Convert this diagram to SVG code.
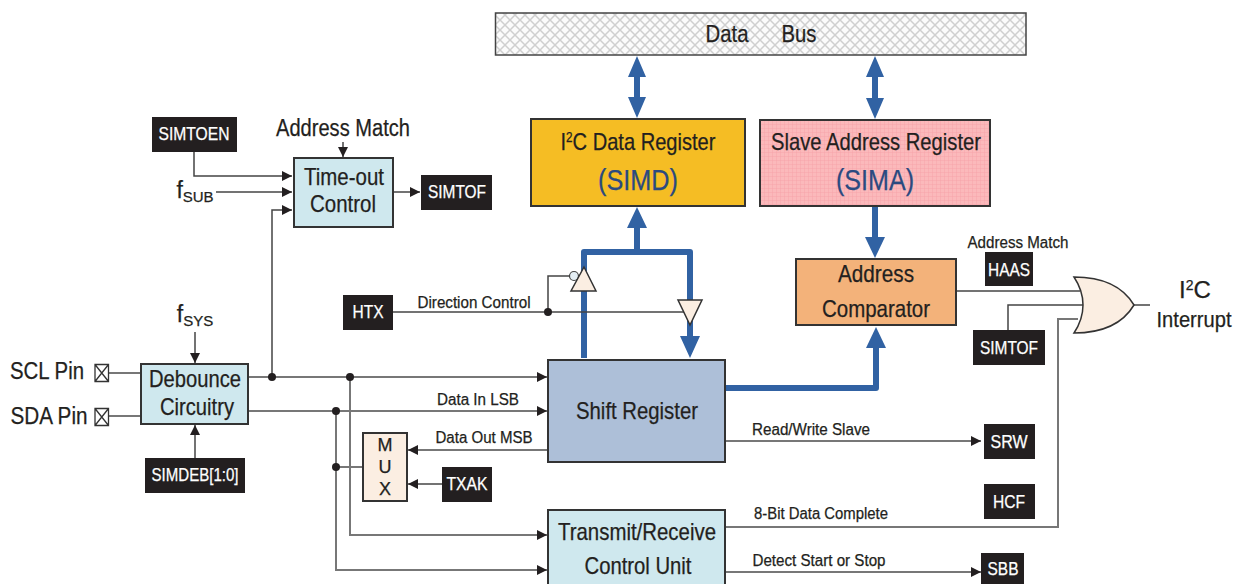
<svg xmlns="http://www.w3.org/2000/svg" width="1240" height="584" viewBox="0 0 1240 584">
<style>
text{font-family:"Liberation Sans",Arial,sans-serif;fill:#231f20;text-anchor:middle;stroke:#231f20;stroke-width:.25}
.blk{fill:#231f20}
.w{fill:#fff;stroke:#fff;font-size:18px}
.box{stroke:#333;stroke-width:2}
.l{fill:none;stroke:#444;stroke-width:1.5}
.g{fill:none;stroke:#777;stroke-width:2}
.a{fill:none;stroke:#444;stroke-width:1.5;marker-end:url(#ah)}
.ag{fill:none;stroke:#777;stroke-width:2;marker-end:url(#ah)}
.b{fill:none;stroke:#3162a3;stroke-width:6;stroke-linejoin:round}
.big{font-size:24px}
.mid{font-size:18px}
.bf{fill:#3162a3}
.cream{fill:#fbeee2}
.t{fill:#2b4a80;stroke:#2b4a80}
</style>
<defs>
<marker id="ah" viewBox="0 0 10 10" refX="10" refY="5" markerWidth="10" markerHeight="10" markerUnits="userSpaceOnUse" orient="auto"><path d="M0 0L10 5L0 10Z" fill="#231f20"/></marker>
<pattern id="hatch" width="10" height="10" patternUnits="userSpaceOnUse"><rect width="10" height="10" fill="#fbfbfb"/><path d="M0 0L10 10M10 0L0 10" stroke="#cfcfcf" stroke-width="1.500"/></pattern>
<pattern id="grid" width="4" height="4" patternUnits="userSpaceOnUse"><rect width="4" height="4" fill="#fbb9bb"/><path d="M0 0H4M0 0V4" stroke="#f59ea2" stroke-width=".7"/></pattern>
</defs>

<g id="connectors">
<path class="b" d="M637 70V106M875 70V106" />
<path class="bf" d="M637 56L646 77H628ZM637 118L628 97H646ZM875 56L884 77H866ZM875 119L866 98H884Z"/>
<path class="b" d="M584 358V252H690V340"/>
<path class="b" d="M637 252V225"/>
<path class="bf" d="M637 207L647 228H627ZM690 358L680 336H700Z"/>
<path class="b" d="M875 207V240"/>
<path class="bf" d="M875 258L865 237H885Z"/>
<path class="b" d="M725 388H876V345"/>
<path class="bf" d="M876 327L866 348H886Z"/>
<path class="l" d="M393 312H684"/>
<path class="l" d="M548 312V276H570"/>
<path class="a" d="M343 142V157"/>
<path class="a" d="M194 152V176H292"/>
<path class="a" d="M216 192H292"/>
<path class="a" d="M272 377V210H292"/>
<path class="a" d="M393 192H420"/>
<path class="a" d="M195 332V363"/>
<path class="a" d="M195 458V425"/>
<path class="g" d="M109 373H141M109 416H141"/>
<path class="ag" d="M248 377H547"/>
<path class="ag" d="M248 411H547"/>
<path class="ag" d="M350 377V535H547"/>
<path class="ag" d="M336 411V570H547"/>
<path class="g" d="M336 467H363"/>
<path class="ag" d="M548 450H408"/>
<path class="a" d="M442 484H408"/>
<path class="ag" d="M725 441H981"/>
<path class="ag" d="M725 572H981"/>
<path class="g" d="M725 527H1058V319H1078"/>
<path class="l" d="M956 291H1080"/>
<path class="l" d="M1008 330V305H1084"/>
<path class="l" d="M1134 305H1150"/>
<g fill="#231f20"><circle cx="272" cy="377" r="4"/><circle cx="350" cy="377" r="4"/><circle cx="336" cy="411" r="4"/><circle cx="336" cy="467" r="4"/><circle cx="548" cy="312" r="4"/></g>
</g>

<g id="data-bus"><rect x="495.500" y="13" width="530.500" height="42" fill="url(#hatch)" stroke="#444" stroke-width="1.500"/>
<text x="727" y="42" class="big" textLength="43" lengthAdjust="spacingAndGlyphs">Data</text><text x="799" y="42" class="big" textLength="35" lengthAdjust="spacingAndGlyphs">Bus</text></g>

<g id="simd"><rect x="531" y="119" width="214" height="87" fill="#f5bd24" class="box"/>
<text x="638" y="150" class="big" textLength="155" lengthAdjust="spacingAndGlyphs">I<tspan font-size="14" dy="-8">2</tspan><tspan dy="8">C Data Register</tspan></text>
<text x="638" y="190" font-size="30" class="t" textLength="80" lengthAdjust="spacingAndGlyphs">(SIMD)</text></g>

<g id="sima"><rect x="760" y="120" width="230" height="86" fill="url(#grid)" class="box"/>
<text x="876" y="150" class="big" textLength="210" lengthAdjust="spacingAndGlyphs">Slave Address Register</text>
<text x="875" y="190" font-size="30" class="t" textLength="78" lengthAdjust="spacingAndGlyphs">(SIMA)</text></g>

<g id="address-comparator"><rect x="796" y="259" width="160" height="66" fill="#f3b27a" class="box"/>
<text x="876" y="282" class="big" textLength="76" lengthAdjust="spacingAndGlyphs">Address</text><text x="876" y="317" class="big" textLength="108" lengthAdjust="spacingAndGlyphs">Comparator</text></g>

<g id="shift-register"><rect x="548" y="360" width="177" height="102" fill="#adbfd8" class="box"/>
<text x="637" y="419" class="big" textLength="122" lengthAdjust="spacingAndGlyphs">Shift Register</text></g>

<g id="transmit-receive"><rect x="548" y="510" width="177" height="80" fill="#cfe8ee" class="box"/>
<text x="637" y="540" class="big" textLength="158" lengthAdjust="spacingAndGlyphs">Transmit/Receive</text><text x="638" y="574" class="big" textLength="107" lengthAdjust="spacingAndGlyphs">Control Unit</text></g>

<g id="timeout-control"><rect x="294" y="158" width="99" height="69" fill="#cfe8ee" class="box"/>
<text x="344" y="185" class="big" textLength="80" lengthAdjust="spacingAndGlyphs">Time-out</text><text x="343" y="212" class="big" textLength="66" lengthAdjust="spacingAndGlyphs">Control</text></g>

<g id="debounce"><rect x="141" y="364" width="107" height="60" fill="#cfe8ee" class="box"/>
<text x="195" y="387" class="big" textLength="92" lengthAdjust="spacingAndGlyphs">Debounce</text><text x="197" y="415" class="big" textLength="74" lengthAdjust="spacingAndGlyphs">Circuitry</text></g>

<g id="mux"><rect x="363" y="433" width="44" height="68" class="box cream"/>
<text x="385" y="451" class="mid">M</text><text x="385" y="473" class="mid">U</text><text x="385" y="495" class="mid">X</text></g>

<g id="up-buffer"><circle cx="574" cy="276" r="4.500" fill="#e4eef4" stroke="#444" stroke-width="1.200"/><path d="M584 267L596 291H571Z" class="cream" stroke="#333" stroke-width="1.500"/></g>
<g id="down-buffer"><path d="M678 300H702L690 325Z" class="cream" stroke="#333" stroke-width="1.500"/></g>

<g id="or-gate"><path d="M1074 277C1100 277 1122 285 1134 305C1122 325 1100 333 1074 333C1086 315 1086 295 1074 277Z" class="cream" stroke="#333" stroke-width="1.500"/></g>

<g id="simtoen"><rect x="152" y="117" width="85" height="35" class="blk"/><text x="194" y="140" class="w" textLength="71" lengthAdjust="spacingAndGlyphs">SIMTOEN</text></g>
<g id="simtof-1"><rect x="421" y="175" width="71" height="35" class="blk"/><text x="457" y="198" class="w" textLength="58" lengthAdjust="spacingAndGlyphs">SIMTOF</text></g>
<g id="htx"><rect x="343" y="295" width="50" height="35" class="blk"/><text x="368" y="318" class="w" textLength="31" lengthAdjust="spacingAndGlyphs">HTX</text></g>
<g id="simdeb"><rect x="145" y="458" width="100" height="35" class="blk"/><text x="195" y="481" class="w" textLength="87" lengthAdjust="spacingAndGlyphs">SIMDEB[1:0]</text></g>
<g id="txak"><rect x="442" y="467" width="50" height="35" class="blk"/><text x="467" y="490" class="w" textLength="41" lengthAdjust="spacingAndGlyphs">TXAK</text></g>
<g id="haas"><rect x="985" y="252" width="48" height="34" class="blk"/><text x="1009" y="276" class="w" textLength="42" lengthAdjust="spacingAndGlyphs">HAAS</text></g>
<g id="simtof-2"><rect x="973" y="330" width="72" height="35" class="blk"/><text x="1009" y="354" class="w" textLength="58" lengthAdjust="spacingAndGlyphs">SIMTOF</text></g>
<g id="srw"><rect x="984" y="424" width="51" height="35" class="blk"/><text x="1009" y="448" class="w" textLength="37" lengthAdjust="spacingAndGlyphs">SRW</text></g>
<g id="hcf"><rect x="984" y="484" width="51" height="35" class="blk"/><text x="1009" y="508" class="w" textLength="32" lengthAdjust="spacingAndGlyphs">HCF</text></g>
<g id="sbb"><rect x="981" y="553" width="43" height="31" class="blk"/><text x="1003" y="575" class="w" textLength="31" lengthAdjust="spacingAndGlyphs">SBB</text></g>

<g id="scl-pin"><text x="47" y="379" font-size="23" textLength="74" lengthAdjust="spacingAndGlyphs">SCL Pin</text><path d="M95 364.500H108.500V381.500H95ZM95 364.500L108.500 381.500M108.500 364.500L95 381.500" fill="none" stroke="#333" stroke-width="1.300"/></g>
<g id="sda-pin"><text x="49" y="424" font-size="23" textLength="77" lengthAdjust="spacingAndGlyphs">SDA Pin</text><path d="M95 408.500H108.500V425.500H95ZM95 408.500L108.500 425.500M108.500 408.500L95 425.500" fill="none" stroke="#333" stroke-width="1.300"/></g>

<g id="labels">
<text x="343" y="136" font-size="23" textLength="134" lengthAdjust="spacingAndGlyphs">Address Match</text>
<text x="195" y="198" font-size="23">f<tspan font-size="15" dy="4">SUB</tspan></text>
<text x="195" y="322" font-size="23">f<tspan font-size="15" dy="4">SYS</tspan></text>
<text x="474" y="308" font-size="16" textLength="113" lengthAdjust="spacingAndGlyphs">Direction Control</text>
<text x="478" y="405" font-size="16" textLength="82" lengthAdjust="spacingAndGlyphs">Data In LSB</text>
<text x="484" y="443" font-size="16" textLength="97" lengthAdjust="spacingAndGlyphs">Data Out MSB</text>
<text x="811" y="435" font-size="16" textLength="118" lengthAdjust="spacingAndGlyphs">Read/Write Slave</text>
<text x="821" y="519" font-size="16" textLength="134" lengthAdjust="spacingAndGlyphs">8-Bit Data Complete</text>
<text x="819" y="566" font-size="16" textLength="133" lengthAdjust="spacingAndGlyphs">Detect Start or Stop</text>
<text x="1018" y="248" font-size="16" textLength="101" lengthAdjust="spacingAndGlyphs">Address Match</text>
<text x="1195" y="298" font-size="24">I<tspan font-size="14" dy="-8">2</tspan><tspan dy="8">C</tspan></text>
<text x="1194" y="327" font-size="22" textLength="75" lengthAdjust="spacingAndGlyphs">Interrupt</text>
</g>
</svg>
